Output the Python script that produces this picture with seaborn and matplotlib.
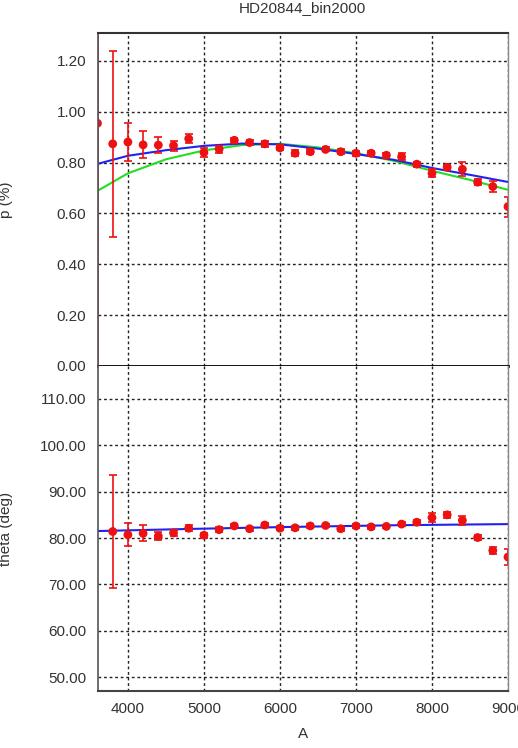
import numpy as np
import pandas as pd
import matplotlib
matplotlib.use("Agg")
import matplotlib.pyplot as plt
import seaborn as sns

# ---------------- data ----------------
title = "HD20844_bin2000"
wave = [3600, 3800, 4000, 4200, 4400, 4600, 4800, 5000, 5200, 5400, 5600, 5800,
        6000, 6200, 6400, 6600, 6800, 7000, 7200, 7400, 7600, 7800, 8000, 8200,
        8400, 8600, 8800, 9000]
p_val = [0.955, 0.874, 0.881, 0.870, 0.869, 0.867, 0.894, 0.840, 0.853, 0.888,
         0.879, 0.874, 0.858, 0.837, 0.843, 0.852, 0.843, 0.837, 0.837, 0.829,
         0.823, 0.794, 0.758, 0.782, 0.774, 0.723, 0.706, 0.627]
p_err = [0.960, 0.366, 0.075, 0.053, 0.030, 0.020, 0.017, 0.018, 0.014, 0.010,
         0.010, 0.012, 0.010, 0.012, 0.010, 0.008, 0.010, 0.010, 0.010, 0.010,
         0.014, 0.010, 0.016, 0.010, 0.027, 0.012, 0.022, 0.039]
theta_val = [np.nan, 81.4, 80.7, 81.0, 80.4, 81.1, 82.1, 80.6, 81.8, 82.6, 82.0,
             82.8, 82.1, 82.2, 82.6, 82.7, 82.0, 82.6, 82.4, 82.5, 83.0, 83.4,
             84.4, 85.0, 83.8, 80.1, 77.3, 75.9]
theta_err = [np.nan, 12.2, 2.5, 1.7, 0.9, 0.7, 0.6, 0.5, 0.5, 0.5, 0.4, 0.4,
             0.4, 0.4, 0.4, 0.4, 0.4, 0.4, 0.4, 0.4, 0.5, 0.5, 1.0, 0.7, 1.0,
             0.5, 0.8, 1.75]

fit_wave = [3600, 4000, 4500, 5000, 5500, 6000, 6500, 7000, 7500, 8000, 8500, 9000]
p_fit_blue = [0.795, 0.827, 0.849, 0.866, 0.875, 0.872, 0.855, 0.834, 0.811, 0.779, 0.752, 0.724]
p_fit_green = [0.689, 0.758, 0.813, 0.848, 0.869, 0.874, 0.860, 0.837, 0.807, 0.768, 0.732, 0.693]
theta_fit_wave = [3600, 4800, 6000, 7500, 9000]
theta_fit = [81.5, 81.95, 82.35, 82.75, 83.0]

p_ticks = [0.0, 0.2, 0.4, 0.6, 0.8, 1.0, 1.2]
theta_ticks = [50, 60, 70, 80, 90, 100, 110]
x_ticks = [4000, 5000, 6000, 7000, 8000, 9000]

# ---------------- style ----------------
sns.set_style("white")
plt.rcParams['font.family'] = ['Liberation Sans', 'DejaVu Sans']

W, H = 518, 748
fig = plt.figure(figsize=(W / 100, H / 100), dpi=100)
left, right = 97.5 / W, 508 / W
ax1 = fig.add_axes([left, 1 - 366 / H, right - left, (366 - 33) / H])
ax2 = fig.add_axes([left, 1 - 691 / H, right - left, (691 - 366) / H])

red = '#ee1111'
txtc = '#333333'

def style(ax, ylim, yticks):
    ax.set_xlim(3600, 9000)
    ax.set_ylim(*ylim)
    ax.set_yticks(yticks)
    ax.set_xticks(x_ticks)
    ax.yaxis.set_major_formatter(matplotlib.ticker.FormatStrFormatter('%.2f'))
    ax.grid(True, color='#222222', linestyle=(0, (2, 2)), linewidth=1.0)
    ax.set_axisbelow(True)
    ax.tick_params(axis='both', length=0, labelsize=11, labelcolor=txtc, pad=8)
    ax.spines['top'].set_color('#333333')
    ax.spines['top'].set_linewidth(1.5)
    ax.spines['right'].set_color('#888888')
    ax.spines['right'].set_linewidth(1.0)
    ax.spines['left'].set_color('#555555')
    ax.spines['left'].set_linewidth(1.2)
    for s in ax.spines.values():
        s.set_zorder(10)

# top panel
style(ax1, (0.0, 1.31), p_ticks)
sns.lineplot(x=fit_wave, y=p_fit_green, ax=ax1, color='#22dd22', linewidth=1.5, zorder=3)
sns.lineplot(x=fit_wave, y=p_fit_blue, ax=ax1, color='#2222ee', linewidth=1.5, zorder=3)
ax1.errorbar(wave, p_val, yerr=p_err, fmt='none', ecolor=red, elinewidth=1.2,
             capsize=3, capthick=1.2, zorder=4)
sns.scatterplot(x=wave, y=p_val, ax=ax1, color=red, s=40, edgecolor='none', zorder=5)
ax1.set_xticklabels([])
ax1.set_xlabel('')
ax1.set_ylabel('p (%)', fontsize=11, color=txtc)
ax1.yaxis.set_label_coords(-0.207, 0.5)
ax1.spines['bottom'].set_color('black')
ax1.spines['bottom'].set_linewidth(2.0)

# bottom panel
style(ax2, (47.0, 117.1), theta_ticks)
sns.lineplot(x=theta_fit_wave, y=theta_fit, ax=ax2, color='#2222ee', linewidth=1.5, zorder=3)
ax2.errorbar(wave, theta_val, yerr=theta_err, fmt='none', ecolor=red, elinewidth=1.2,
             capsize=3, capthick=1.2, zorder=4)
sns.scatterplot(x=wave, y=theta_val, ax=ax2, color=red, s=40, edgecolor='none', zorder=5)
ax2.set_xticklabels([str(v) for v in x_ticks])
ax2.set_xlabel('A', fontsize=11, color=txtc, labelpad=8)
ax2.set_ylabel('theta (deg)', fontsize=11, color=txtc)
ax2.yaxis.set_label_coords(-0.207, 0.5)
ax2.spines['top'].set_visible(False)
ax2.spines['bottom'].set_color('#444444')
ax2.spines['bottom'].set_linewidth(1.5)

fig.text((left + right) / 2, 1 - 12 / H, title, ha='center', va='baseline',
         fontsize=11, color=txtc)

fig.savefig('out.png', dpi=100)
